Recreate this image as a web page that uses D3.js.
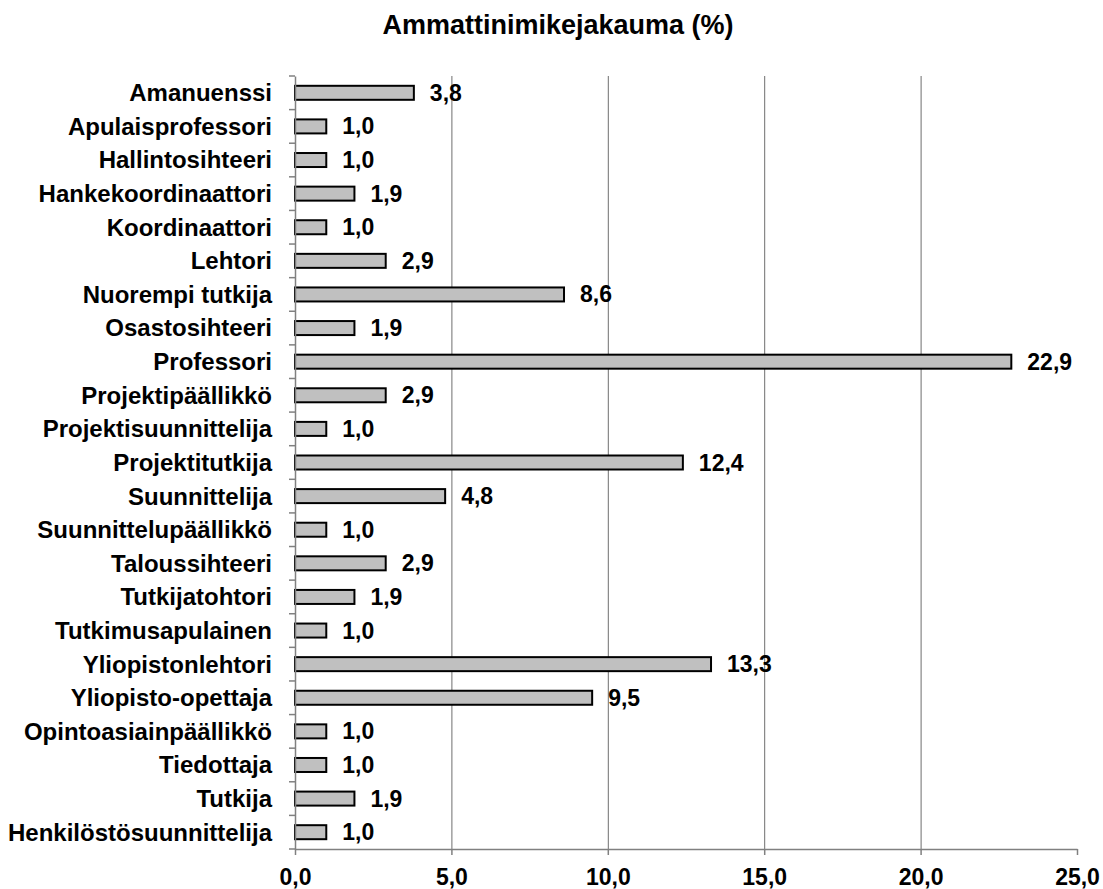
<!DOCTYPE html>
<html><head><meta charset="utf-8">
<script src="https://cdn.jsdelivr.net/npm/d3@7"></script>
<style>body{margin:0;background:#fff}svg{display:block}text{font-family:"Liberation Sans",Arial,sans-serif;font-weight:bold;fill:#000}</style>
</head><body>
<script>
const categories = ["Amanuenssi","Apulaisprofessori","Hallintosihteeri","Hankekoordinaattori","Koordinaattori","Lehtori","Nuorempi tutkija","Osastosihteeri","Professori","Projektipäällikkö","Projektisuunnittelija","Projektitutkija","Suunnittelija","Suunnittelupäällikkö","Taloussihteeri","Tutkijatohtori","Tutkimusapulainen","Yliopistonlehtori","Yliopisto-opettaja","Opintoasiainpäällikkö","Tiedottaja","Tutkija","Henkilöstösuunnittelija"];
const values = [3.8,1.0,1.0,1.9,1.0,2.9,8.6,1.9,22.9,2.9,1.0,12.4,4.8,1.0,2.9,1.9,1.0,13.3,9.5,1.0,1.0,1.9,1.0];
const xTicks = [0,5,10,15,20,25];
const title = "Ammattinimikejakauma (%)";

const W = 1103, H = 889;
const mLeft = 295, mRight = 1077, mTop = 76, mBottom = 849;
const fmt = v => d3.format(".1f")(v).replace(".", ",");

const svg = d3.select("body").append("svg").attr("width", W).attr("height", H);
const x = d3.scaleLinear().domain([0,25]).range([mLeft,mRight]);
const y = d3.scaleBand().domain(categories).range([mTop,mBottom]).paddingInner(0).paddingOuter(0);

svg.append("text").attr("x", 558).attr("y", 34).attr("text-anchor","middle")
  .style("font-size","27px").text(title);

// gridlines
svg.append("g").selectAll("line").data(xTicks.filter(d => d > 0 && d < 25)).join("line")
  .attr("x1", d => x(d)+0.5).attr("x2", d => x(d)+0.5).attr("y1", mTop).attr("y2", mBottom)
  .attr("stroke", "#6e6e6e").attr("stroke-width", 1);

// bars
const bh = 14;
svg.append("g").selectAll("rect").data(categories).join("rect")
  .attr("x", mLeft).attr("y", (d) => y(d) + y.bandwidth()/2 - bh/2)
  .attr("width", (d,i) => x(values[i]) - mLeft).attr("height", bh)
  .attr("fill", "#c0c0c0").attr("stroke", "#000").attr("stroke-width", 2);

// value labels
svg.append("g").selectAll("text").data(categories).join("text")
  .attr("x", (d,i) => x(values[i]) + 16).attr("y", d => y(d) + y.bandwidth()/2 + 8)
  .style("font-size","23px").text((d,i) => fmt(values[i]));

// y axis
const ya = svg.append("g").attr("transform", `translate(${mLeft},0)`)
  .call(d3.axisLeft(y).tickSize(0).tickPadding(23));
ya.select(".domain").attr("stroke","#808080").attr("stroke-width",1.5);
ya.selectAll(".tick text").style("font-size","24px").style("font-family",'"Liberation Sans",Arial,sans-serif').style("font-weight","bold").attr("dy","0.35em").attr("fill","#000");
// category boundary ticks
svg.append("g").selectAll("line").data(d3.range(categories.length+1)).join("line")
  .attr("x1", mLeft-6).attr("x2", mLeft).attr("y1", i => mTop + i*y.step()).attr("y2", i => mTop + i*y.step())
  .attr("stroke","#808080").attr("stroke-width",1.5);

// x axis
const xa = svg.append("g").attr("transform", `translate(0,${mBottom})`)
  .call(d3.axisBottom(x).tickValues(xTicks).tickFormat(fmt).tickSize(6).tickSizeOuter(0).tickPadding(14));
xa.select(".domain").attr("stroke","#808080").attr("stroke-width",1.5);
xa.selectAll(".tick line").attr("stroke","#808080").attr("stroke-width",1.5);
xa.selectAll(".tick text").style("font-size","23px").style("font-family",'"Liberation Sans",Arial,sans-serif').style("font-weight","bold").attr("fill","#000");
</script>
</body></html>
